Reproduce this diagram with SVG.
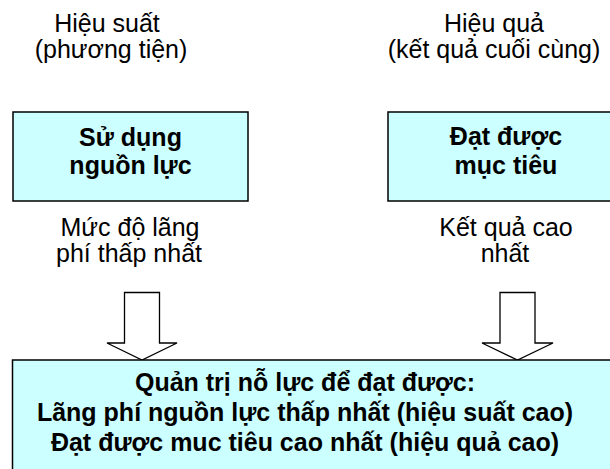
<svg xmlns="http://www.w3.org/2000/svg" width="610" height="469" viewBox="0 0 610 469">
<style>
.box{fill:#CCFFFF;stroke:#000;stroke-width:1.5}
.arr{fill:#fff;stroke:#000;stroke-width:1.3;stroke-linejoin:miter}
.t{font-family:"Liberation Sans",Arial,sans-serif;font-size:25px;fill:#000;text-anchor:middle}
.b{font-family:"Liberation Sans",Arial,sans-serif;font-size:25px;font-weight:bold;fill:#000;text-anchor:middle}
</style>
<rect width="610" height="469" fill="#fff"/>
<g id="label-hieusuat">
<text class="t" x="107" y="32">Hiệu suất</text>
<text class="t" x="111" y="58">(phương tiện)</text>
</g>
<g id="label-hieuqua">
<text class="t" x="494" y="32">Hiệu quả</text>
<text class="t" x="494" y="58">(kết quả cuối cùng)</text>
</g>
<g id="node-sudung">
<rect class="box" x="13" y="112" width="235" height="89"/>
<text class="b" x="130.5" y="146">Sử dụng</text>
<text class="b" x="130.5" y="174">nguồn lực</text>
</g>
<g id="node-datduoc">
<rect class="box" x="388" y="112" width="236" height="89"/>
<text class="b" x="506" y="145">Đạt được</text>
<text class="b" x="506" y="174">mục tiêu</text>
</g>
<g id="label-mucdo">
<text class="t" x="130" y="236">Mức độ lãng</text>
<text class="t" x="129" y="262">phí thấp nhất</text>
</g>
<g id="label-ketqua">
<text class="t" x="506" y="236">Kết quả cao</text>
<text class="t" x="505" y="262">nhất</text>
</g>
<g id="connectors">
<path class="arr" d="M124.5 292.5 H159.5 V343 H177 L142 360 L107 343 H124.5 Z"/>
<path class="arr" d="M500 292.5 H535 V343 H553 L517.5 360 L482 343 H500 Z"/>
</g>
<g id="node-quantri">
<rect class="box" x="12.5" y="360" width="620" height="130"/>
<text class="b" x="305" y="391">Quản trị nỗ lực để đạt được:</text>
<text class="b" x="305" y="421">Lãng phí nguồn lực thấp nhất (hiệu suất cao)</text>
<text class="b" x="305" y="451">Đạt được muc tiêu cao nhất (hiệu quả cao)</text>
</g>
</svg>
